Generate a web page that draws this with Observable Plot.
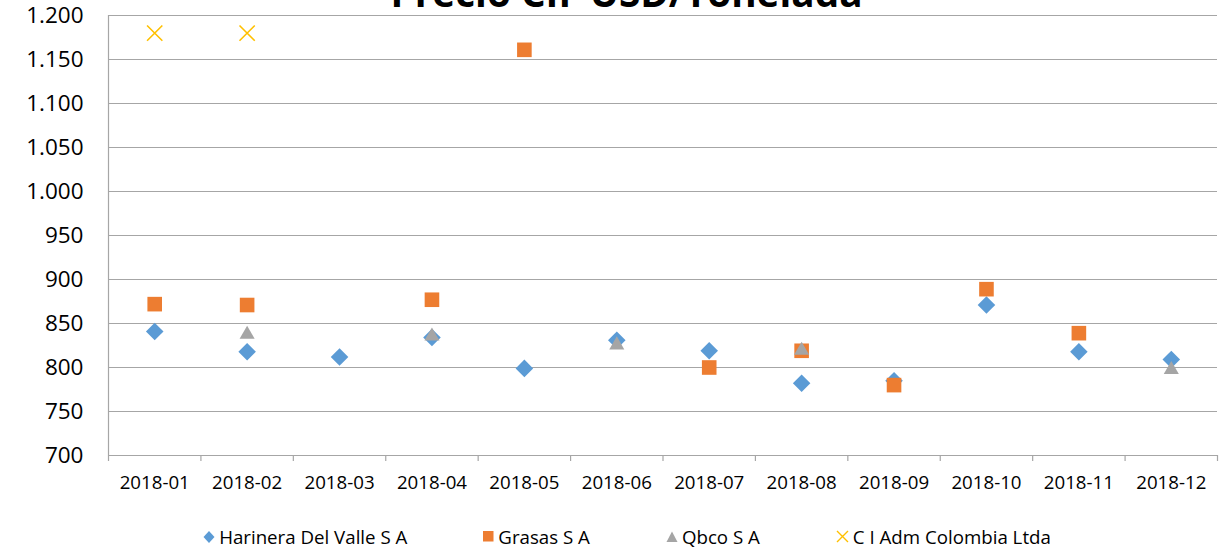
<!DOCTYPE html>
<html>
<head>
<meta charset="utf-8">
<script src="https://cdn.jsdelivr.net/npm/d3@7"></script>
<script src="https://cdn.jsdelivr.net/npm/@observablehq/plot@0.6"></script>
<style>
  html, body { margin: 0; padding: 0; background: #fff; }
  #wrap { position: relative; width: 1226px; height: 550px; overflow: hidden; font-family: "Open Sans", sans-serif; }
  #title { position: absolute; top: -27px; left: 0; width: 1226px; padding-left: 27px; box-sizing: border-box;
           text-align: center; font-weight: 700; font-size: 38.7px; line-height: 1; color: #000; white-space: nowrap; }
  #chart { position: absolute; top: 0; left: 0; }
  #legend { position: absolute; top: 524px; left: 0; width: 1226px; padding-left: 28px; box-sizing: border-box;
            display: flex; justify-content: center; align-items: center; gap: 76px; font-size: 18.7px; color: #000; }
  .item { display: flex; align-items: center; gap: 4px; white-space: nowrap; }
  .item svg { display: block; }
</style>
</head>
<body>
<div id="wrap">
  <div id="chart"></div>
  <div id="title">Precio CIF USD/Tonelada</div>
  <div id="legend"></div>
</div>
<script>
// ---- data ----
const months = ["2018-01","2018-02","2018-03","2018-04","2018-05","2018-06","2018-07","2018-08","2018-09","2018-10","2018-11","2018-12"];
const harinera = [841, 818, 812, 834, 799, 831, 819, 782, 785, 871, 818, 809];
const grasas   = [872, 871, null, 877, 1161, null, 800, 819, 780, 889, 839, null];
const qbco     = [null, 840, null, 838, null, 828, null, 822, null, null, null, 800];
const ciAdm    = [1180, 1180, null, null, null, null, null, null, null, null, null, null];
const yTicks = [700, 750, 800, 850, 900, 950, 1000, 1050, 1100, 1150, 1200];
const seriesNames = ["Harinera Del Valle S A", "Grasas S A", "Qbco S A", "C I Adm Colombia Ltda"];
const colors = ["#5B9BD5", "#ED7D31", "#A5A5A5", "#FFC000"];

const toRows = arr => months.map((m, i) => ({month: m, value: arr[i]})).filter(d => d.value != null);
const xPos = d => months.indexOf(d.month) + 0.5;
const fmt = d3.formatLocale({decimal: ",", thousands: ".", grouping: [3], currency: ["$", ""]}).format(",");
const gridColor = "#a6a6a6";

const chart = Plot.plot({
  width: 1226,
  height: 510,
  marginLeft: 108,
  marginRight: 9,
  marginTop: 15,
  marginBottom: 55,
  style: {fontFamily: "'Open Sans', sans-serif", background: "transparent", color: "#000"},
  x: {domain: [0, months.length], axis: null, label: null},
  y: {domain: [700, 1200], axis: null, label: null},
  marks: [
    Plot.ruleY(yTicks, {stroke: gridColor, strokeWidth: 1.2}),
    Plot.ruleX([0], {stroke: gridColor, strokeWidth: 1.2}),
    Plot.axisX(d3.range(months.length + 1), {tickSize: 6, tickFormat: () => "", label: null, stroke: gridColor, strokeWidth: 1.2}),
    Plot.axisX(months.map((m, i) => i + 0.5), {tickSize: 0, tickPadding: 20, fontSize: 18.7, fill: "#000", label: null,
      tickFormat: v => months[Math.round(v - 0.5)]}),
    Plot.axisY(yTicks, {tickSize: 0, tickPadding: 25, fontSize: 22.5, fill: "#000", label: null, tickFormat: fmt}),
    Plot.dot(toRows(harinera), {x: xPos, y: "value", symbol: "diamond2", r: 7.9, fill: colors[0]}),
    Plot.dot(toRows(grasas), {x: xPos, y: "value", symbol: "square2", r: 9.3, fill: colors[1]}),
    Plot.dot(toRows(qbco), {x: xPos, y: "value", symbol: "triangle2", r: 7.2, dy: 2.2, fill: colors[2]}),
    Plot.dot(toRows(ciAdm), {x: xPos, y: "value", symbol: "times", r: 7, stroke: colors[3], strokeWidth: 1.6, fill: "none"})
  ]
});
document.getElementById("chart").appendChild(chart);

// ---- legend ----
const swatches = [
  '<svg width="12" height="14" viewBox="-6 -7 12 14"><path d="M0,-6L5.5,0L0,6L-5.5,0Z" fill="' + colors[0] + '"/></svg>',
  '<svg width="11" height="11" viewBox="0 0 11 11"><rect width="10.5" height="10.5" fill="' + colors[1] + '"/></svg>',
  '<svg width="12" height="12" viewBox="-6 -6 12 12"><path d="M0,-5.5L5.5,5L-5.5,5Z" fill="' + colors[2] + '"/></svg>',
  '<svg width="13" height="13" viewBox="-6.5 -6.5 13 13"><path d="M-5.5,-5.5L5.5,5.5M-5.5,5.5L5.5,-5.5" stroke="' + colors[3] + '" stroke-width="1.4"/></svg>'
];
const legend = document.getElementById("legend");
seriesNames.forEach((name, i) => {
  const item = document.createElement("div");
  item.className = "item";
  item.innerHTML = swatches[i] + "<span>" + name + "</span>";
  legend.appendChild(item);
});
</script>
</body>
</html>
